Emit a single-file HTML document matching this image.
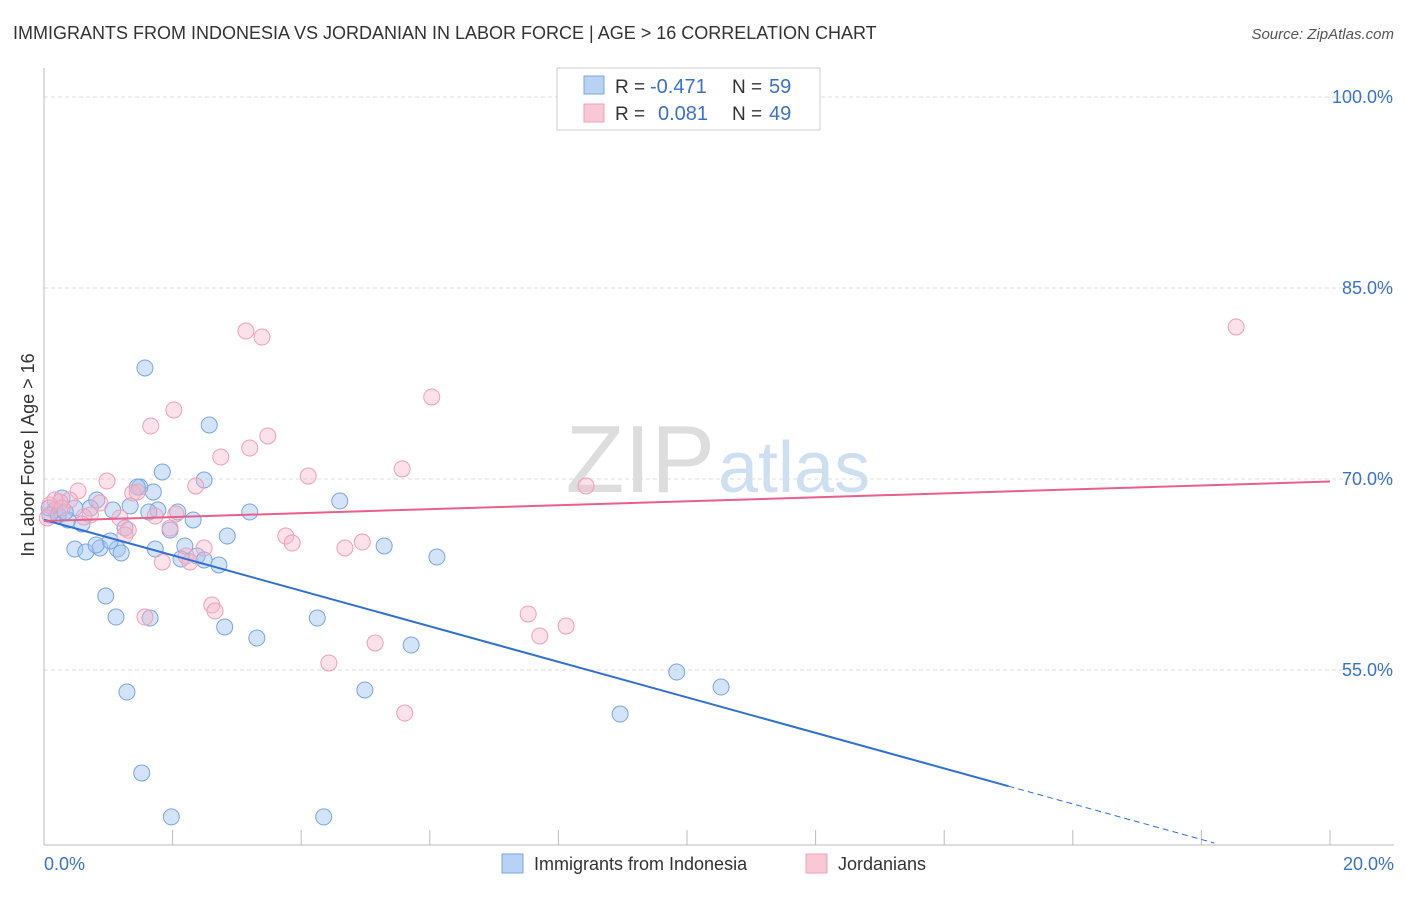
<!DOCTYPE html>
<html><head><meta charset="utf-8"><style>
body{margin:0;background:#fff;font-family:"Liberation Sans",sans-serif;}
svg text{font-family:"Liberation Sans",sans-serif;}
</style></head><body>
<svg id="chart" width="1406" height="892">
<text x="13" y="39" font-size="18" fill="#333">IMMIGRANTS FROM INDONESIA VS JORDANIAN IN LABOR FORCE | AGE &gt; 16 CORRELATION CHART</text>
<text x="1394" y="39" font-size="15" fill="#555" font-style="italic" text-anchor="end">Source: ZipAtlas.com</text>
<text x="715" y="492" font-size="96" fill="#ddd" font-family="Liberation Serif" text-anchor="end">ZIP</text>
<text x="718" y="492" font-size="72" fill="#cfdff2">atlas</text>
<g id="grid"></g><g id="axes"></g><g id="pts"></g><g id="lines"></g>
<text transform="translate(34,455) rotate(-90)" font-size="18" fill="#333" text-anchor="middle">In Labor Force | Age &gt; 16</text>
<text x="44" y="870" font-size="18" fill="#3a72c9">0.0%</text>
<text x="1394" y="870" font-size="18" fill="#3a72c9" text-anchor="end">20.0%</text>
<g>
<rect x="557" y="68" width="263" height="62" fill="#fff" stroke="#ccc"/>
<rect x="584" y="76" width="20" height="18" fill="#b8d2f5" stroke="#7aa5dd"/>
<rect x="584" y="104" width="20" height="18" fill="#f9c8d6" stroke="#eea0b8"/>
<text x="615" y="93" font-size="19" fill="#333">R =</text>
<text x="650" y="93" font-size="20" fill="#3a72c9">-0.471</text>
<text x="732" y="93" font-size="19" fill="#333">N =</text>
<text x="769" y="93" font-size="20" fill="#3a72c9">59</text>
<text x="615" y="120" font-size="19" fill="#333">R =</text>
<text x="658" y="120" font-size="20" fill="#3a72c9">0.081</text>
<text x="732" y="120" font-size="19" fill="#333">N =</text>
<text x="769" y="120" font-size="20" fill="#3a72c9">49</text>
</g>
<g>
<rect x="502" y="854" width="21" height="19" fill="#b8d2f5" stroke="#7aa5dd"/>
<text x="534" y="870" font-size="18" fill="#333">Immigrants from Indonesia</text>
<rect x="806" y="854" width="21" height="19" fill="#f9c8d6" stroke="#eea0b8"/>
<text x="838" y="870" font-size="18" fill="#333">Jordanians</text>
</g>
</svg>
<script>
const yTicks=[100,85,70,55];
const xTicks=[0,2,4,6,8,10,12,14,16,18,20];
const blueX=[1.57,2.57,1.84,2.49,1.70,1.49,1.45,0.82,0.28,1.34,1.07,0.72,0.48,0.17,0.09,0.37,0.59,2.32,3.20,4.60,1.77,2.08,1.96,2.85,0.87,0.48,0.65,1.14,1.20,1.73,2.19,2.13,2.38,2.72,5.29,6.11,0.96,1.12,1.65,2.81,3.31,4.25,5.71,1.29,4.99,1.52,1.98,4.35,8.96,9.84,10.53,0.08,0.22,0.33,1.03,0.81,1.26,1.63,2.49];
const blueY=[78.72,74.24,70.55,69.92,68.98,69.37,69.37,68.35,68.51,67.88,67.56,67.72,67.72,67.56,67.17,66.78,66.47,66.78,67.41,68.27,67.56,67.41,65.99,65.52,64.58,64.50,64.27,64.50,64.19,64.50,64.74,63.72,63.95,63.25,64.74,63.87,60.81,59.16,59.08,58.38,57.51,59.08,56.96,53.27,53.43,46.91,43.46,43.46,51.54,54.84,53.66,67.72,67.17,67.41,65.13,64.82,66.15,67.41,63.64];
const pinkX=[3.14,3.39,18.54,6.03,2.02,1.66,3.48,3.20,2.75,5.57,4.11,2.36,0.98,0.53,1.38,1.45,0.40,0.25,0.72,1.18,1.73,2.05,1.31,1.96,3.76,3.86,2.49,4.68,4.95,2.21,1.84,2.27,2.61,2.66,1.57,7.53,8.12,7.71,5.15,4.43,5.61,8.43,0.09,0.17,0.28,0.87,0.05,0.62,1.26];
const pinkY=[81.62,81.15,81.94,76.44,75.42,74.16,73.38,72.43,71.73,70.79,70.23,69.45,69.84,69.06,68.90,68.98,68.35,68.19,67.17,66.94,67.09,67.25,65.99,66.15,65.52,64.97,64.58,64.58,65.05,63.95,63.48,63.48,60.10,59.63,59.16,59.40,58.45,57.67,57.12,55.55,51.62,69.45,67.96,68.35,67.72,68.11,66.94,67.02,65.60];
const blueTrend=[66.8,38.9];
const pinkTrend=[66.7,69.8];
const blueSolidEnd=15.0;

const NS='http://www.w3.org/2000/svg';
const X=v=>44+v*64.3, Y=v=>97+(100-v)*12.733;
function mk(tag,attrs,parent){const e=document.createElementNS(NS,tag);for(const k in attrs)e.setAttribute(k,attrs[k]);document.getElementById(parent).appendChild(e);return e;}
yTicks.forEach(t=>{
 const l=mk('line',{x1:44,x2:1394,y1:Y(t),y2:Y(t),stroke:'#ddd','stroke-dasharray':'4,3'},'grid');
 
 
 const tx=mk('text',{x:1393,y:Y(t)+6,'font-size':18,fill:'#3a72c9','text-anchor':'end'},'grid');
 tx.textContent=t.toFixed(1)+'%';
 
 
});
const ax=mk('line',{x1:44,x2:44,y1:68,y2:845,stroke:'#bbb'},'axes');


const bx=mk('line',{x1:44,x2:1394,y1:845,y2:845,stroke:'#bbb'},'axes');


xTicks.forEach(t=>{
 const l=mk('line',{x1:X(t),x2:X(t),y1:830,y2:845,stroke:'#bbb'},'axes');
 
 
});
function pts(xs,ys,fill,stroke,name){xs.forEach((v,i)=>{
 const c=mk('circle',{cx:X(v),cy:Y(ys[i]),r:8,fill:fill,stroke:stroke,'stroke-width':1},'pts');
 
 
});}
pts(blueX,blueY,'rgba(160,195,240,0.45)','#7aa5dd','indonesia-point');
pts(pinkX,pinkY,'rgba(245,180,200,0.4)','#eea0b8','jordanian-point');
const bAt=x=>blueTrend[0]+(blueTrend[1]-blueTrend[0])*x/20;
const bl=mk('line',{x1:X(0),y1:Y(bAt(0)),x2:X(blueSolidEnd),y2:Y(bAt(blueSolidEnd)),stroke:'#2f6fd6','stroke-width':2},'lines');


const bd=mk('line',{x1:X(blueSolidEnd),y1:Y(bAt(blueSolidEnd)),x2:X(18.2),y2:Y(bAt(18.2)),stroke:'#2f6fd6','stroke-width':1,'stroke-dasharray':'6,4'},'lines');


const pl=mk('line',{x1:X(0),y1:Y(pinkTrend[0]),x2:X(20),y2:Y(pinkTrend[1]),stroke:'#e8608a','stroke-width':2},'lines');


</script>
</body></html>
